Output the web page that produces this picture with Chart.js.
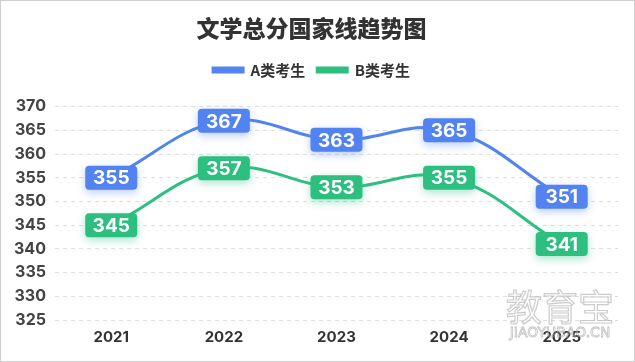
<!DOCTYPE html>
<html>
<head>
<meta charset="utf-8">
<script src="https://cdn.jsdelivr.net/npm/chart.js@4"></script>
<style>
  html, body { margin: 0; padding: 0; background: #fff; }
  #wrap { width: 633px; height: 360px; border: 1px solid #cfcfcf; position: relative; }
</style>
</head>
<body>
<div id="wrap"><canvas id="chart" width="633" height="360"></canvas></div>
<script>
const years = ["2021", "2022", "2023", "2024", "2025"];
const scoresA = [355, 367, 363, 365, 351];
const scoresB = [345, 357, 353, 355, 341];
const yTicks = [325, 330, 335, 340, 345, 350, 355, 360, 365, 370];

const blue = "#5283f0";
const green = "#2dbf80";
const cjk = "'Noto Sans CJK SC', 'Noto Sans', sans-serif";
const num = "Inter, 'Noto Sans', sans-serif";

// extra space under the legend
const legendGap = {
  id: "legendGap",
  afterInit(chart) {
    const lg = chart.legend;
    if (!lg) return;
    const fit = lg.fit.bind(lg);
    lg.fit = function () { fit(); this.height += 19; };
  }
};

// value boxes on each point
const valueBoxes = {
  id: "valueBoxes",
  afterDatasetsDraw(chart) {
    const ctx = chart.ctx;
    chart.data.datasets.forEach((ds, i) => {
      const meta = chart.getDatasetMeta(i);
      meta.data.forEach((pt, j) => {
        const w = 52, h = 24;
        const x = pt.x - w / 2, y = pt.y - h / 2;
        ctx.save();
        ctx.shadowColor = ds.borderColor + "66";
        ctx.shadowBlur = 8;
        ctx.shadowOffsetY = 3;
        ctx.fillStyle = ds.borderColor;
        ctx.beginPath();
        ctx.roundRect(x, y, w, h, 4);
        ctx.fill();
        ctx.restore();
        ctx.save();
        ctx.fillStyle = "#fff";
        ctx.font = "bold 19px " + num;
        ctx.textAlign = "center";
        ctx.textBaseline = "middle";
        ctx.fillText(String(ds.data[j]), pt.x, pt.y + 1);
        ctx.restore();
      });
    });
  }
};

// faint watermark bottom right
const watermark = {
  id: "watermark",
  afterDraw(chart) {
    const ctx = chart.ctx;
    ctx.save();
    ctx.textAlign = "center";
    ctx.textBaseline = "middle";
    ctx.font = "36px " + cjk;
    ctx.fillStyle = "rgba(255,255,255,0.6)";
    ctx.strokeStyle = "rgba(170,170,170,0.6)";
    ctx.lineWidth = 1.2;
    ctx.fillText("教育宝", 559, 306);
    ctx.strokeText("教育宝", 559, 306);
    ctx.font = "14px 'DejaVu Sans', sans-serif";
    ctx.strokeStyle = "rgba(170,170,170,0.7)";
    ctx.lineWidth = 0.8;
    ctx.strokeText("JIAOYUBAO.CN", 559, 332);
    ctx.restore();
  }
};

new Chart(document.getElementById("chart"), {
  type: "line",
  data: {
    labels: years,
    datasets: [
      { label: "A类考生", data: scoresA, borderColor: blue, backgroundColor: blue, borderWidth: 3, tension: 0.4, pointRadius: 0 },
      { label: "B类考生", data: scoresB, borderColor: green, backgroundColor: green, borderWidth: 3, tension: 0.4, pointRadius: 0 }
    ]
  },
  options: {
    responsive: false,
    animation: false,
    layout: { padding: { left: 4, right: 16, top: 0, bottom: 15 } },
    plugins: {
      title: {
        display: true,
        text: "文学总分国家线趋势图",
        color: "#333",
        font: { family: cjk, size: 23, weight: 900 },
        padding: { top: 13, bottom: 9 }
      },
      legend: {
        display: true,
        labels: {
          boxWidth: 30,
          boxHeight: 4,
          color: "#333",
          font: { family: cjk, size: 15, weight: "bold" },
          padding: 12
        }
      },
      tooltip: { enabled: false }
    },
    scales: {
      x: {
        offset: true,
        grid: { display: false },
        border: { display: false },
        ticks: { color: "#333", font: { family: num, size: 15, weight: "bold" }, padding: 0 }
      },
      y: {
        min: yTicks[0],
        max: yTicks[yTicks.length - 1],
        afterBuildTicks: axis => { axis.ticks = yTicks.map(v => ({ value: v })); },
        grid: { color: "#dddddd", drawTicks: false },
        border: { display: false, dash: [4, 4] },
        ticks: { color: "#444", font: { family: num, size: 16, weight: "bold" }, padding: 9 }
      }
    }
  },
  plugins: [legendGap, valueBoxes, watermark]
});
</script>
</body>
</html>
